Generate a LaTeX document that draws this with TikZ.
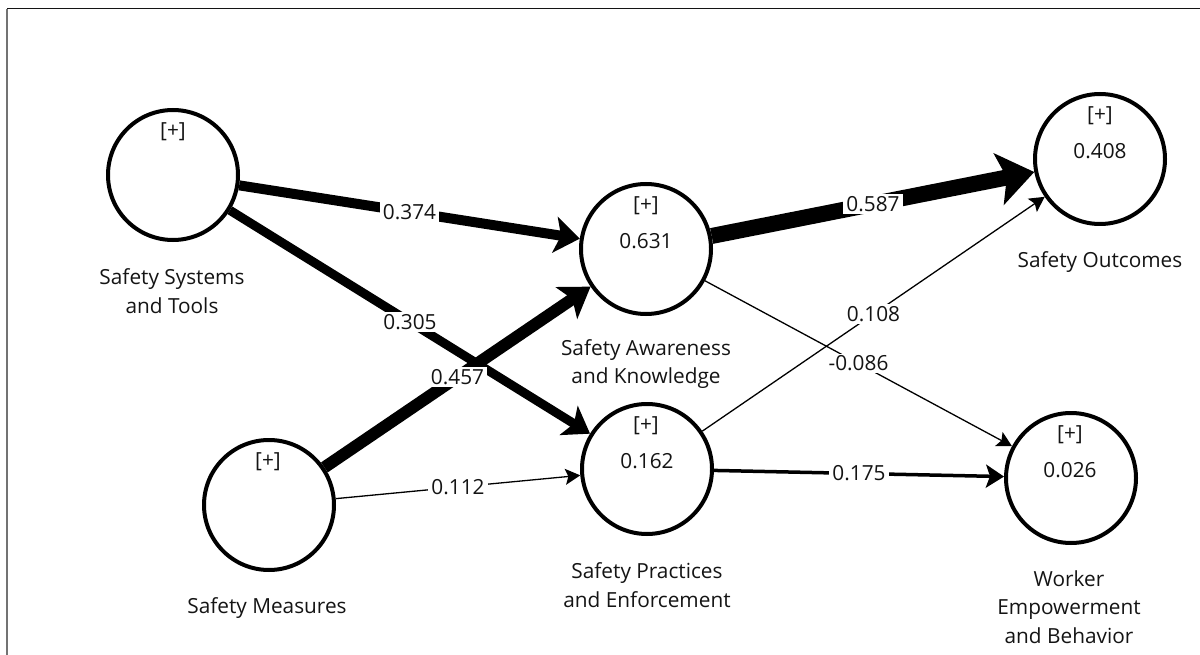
\documentclass[tikz,border=0pt]{standalone}
\usepackage{fontspec}
\setmainfont{Open Sans}
\usetikzlibrary{arrows.meta,calc}
\begin{document}
\begin{tikzpicture}[x=1pt,y=-1pt,
  lv/.style={circle,draw=black,fill=white,line width=4pt,minimum size=130pt,inner sep=0pt},
  txt/.style={font=\fontsize{20.8pt}{28.5pt}\selectfont,text=black!92,inner sep=0pt,align=center},
  lbl/.style={txt,fill=white,inner xsep=3pt,inner ysep=2pt},
  ehuge/.style={line width=16pt,-{Stealth[length=36pt,width=52pt,inset=8pt]}},
  ebig/.style={line width=12pt,-{Stealth[length=29pt,width=38pt,inset=7pt]}},
  emid/.style={line width=10pt,-{Stealth[length=25pt,width=36pt,inset=6pt]}},
  emidb/.style={line width=9pt,-{Stealth[length=25pt,width=34pt,inset=6pt]}},
  esmall/.style={line width=3.5pt,-{Stealth[length=18pt,width=23pt,inset=4pt]}},
  ethin/.style={line width=1.3pt,-{Stealth[length=15pt,width=16pt,inset=3pt]}}
]
\useasboundingbox (0,0) rectangle (1200,655);
\draw[black!92,line width=1pt] (7,9) -- (1200,9);
\draw[black!55,line width=1.6pt] (7,9) -- (7,655);

% latent variables
\node[lv] (sst) at (173,175) {};
\node[lv] (sak) at (646,249) {};
\node[lv] (so)  at (1100,159) {};
\node[lv] (sm)  at (269,505) {};
\node[lv] (spe) at (647,469) {};
\node[lv] (web) at (1071,478) {};

% connectors
\draw[emid]  (sst) -- (sak);
\draw[emidb] (sst) -- (spe);
\draw[ebig]  (sm)  -- (sak);
\draw[ethin] (sm)  -- (spe);
\draw[ehuge] (sak) -- (so);
\draw[ethin] (spe) -- (so);
\draw[ethin] (sak) -- (web);
\draw[esmall] (spe) -- (web);

% path coefficients
\node[lbl] (c374) at ($(sst)!0.5!(sak)$) {0.374};
\node[lbl] (c305) at ($(sst)!0.5!(spe)$) {0.305};
\node[lbl] (c457) at ($(sm)!0.5!(sak)$) {0.457};
\node[lbl] (c112) at ($(sm)!0.5!(spe)$) {0.112};
\node[lbl] (c587) at ($(sak)!0.5!(so)$) {0.587};
\node[lbl] (c108) at ($(spe)!0.5!(so)$) {0.108};
\node[lbl] (c086) at ($(sak)!0.5!(web)$) {-0.086};
\node[lbl] (c175) at ($(spe)!0.5!(web)$) {0.175};

% inner texts
\node[txt] (sstp) at (173,132) {[+]};
\node[txt] (sakp) at (646,206) {[+]};
\node[txt] (sakv) at (646,241) {0.631};
\node[txt] (sop)  at (1100,116) {[+]};
\node[txt] (sov)  at (1100,151) {0.408};
\node[txt] (smp)  at (268,462) {[+]};
\node[txt] (spep) at (646,426) {[+]};
\node[txt] (spev) at (647,461) {0.162};
\node[txt] (webp) at (1070,435) {[+]};
\node[txt] (webv) at (1070,470) {0.026};

% names
\node[txt] (sstn) at (172,291) {Safety Systems\\and Tools};
\node[txt] (sakn) at (646,364) {Safety Awareness\\and Knowledge};
\node[txt] (son)  at (1100,262) {Safety Outcomes};
\node[txt] (smn)  at (267,608) {Safety Measures};
\node[txt] (spen) at (647,585) {Safety Practices\\and Enforcement};
\node[txt] (webn) at (1069,607) {Worker\\Empowerment\\and Behavior};
\end{tikzpicture}
\end{document}
